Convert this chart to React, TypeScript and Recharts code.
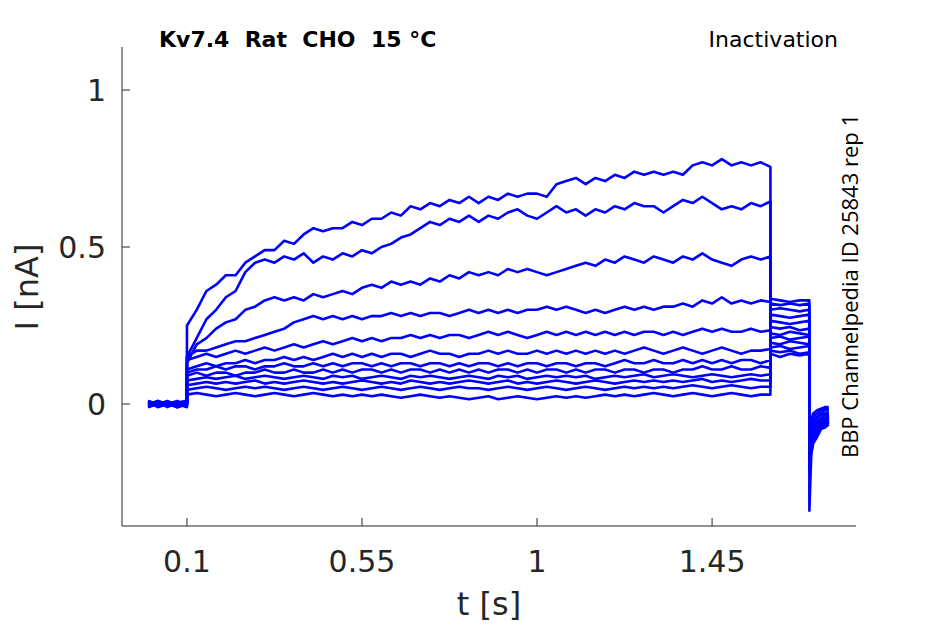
import { LineChart, Line, XAxis, YAxis } from "recharts";

// time grid (s): holding, test pulse, tail, return
const baseTimes = [0, 0.025, 0.05, 0.075, 0.0999];
const pulseTimes = [
  0.1, 0.125, 0.15, 0.175, 0.2, 0.225, 0.25, 0.275, 0.3, 0.325,
  0.35, 0.375, 0.4, 0.425, 0.45, 0.475, 0.5, 0.525, 0.55, 0.575,
  0.6, 0.625, 0.65, 0.675, 0.7, 0.725, 0.75, 0.775, 0.8, 0.825,
  0.85, 0.875, 0.9, 0.925, 0.95, 0.975, 1.0, 1.025, 1.05, 1.075,
  1.1, 1.125, 1.15, 1.175, 1.2, 1.225, 1.25, 1.275, 1.3, 1.325,
  1.35, 1.375, 1.4, 1.425, 1.45, 1.475, 1.5, 1.525, 1.55, 1.575,
  1.6,
];
const tailTimes = [1.6001, 1.625, 1.65, 1.675, 1.6999];
const afterTimes = [1.7001, 1.705, 1.71, 1.72, 1.73, 1.74, 1.75];

const times = [...baseTimes, ...pulseTimes, ...tailTimes, ...afterTimes];

// currents (nA), one array per sweep: base | pulse | tail | after
const sweep1 = [
  0.005, -0.005, 0.0, -0.01, 0.0,
  0.25, 0.30, 0.36, 0.38, 0.41, 0.41, 0.45, 0.47, 0.49, 0.49,
  0.52, 0.51, 0.54, 0.56, 0.55, 0.56, 0.56, 0.58, 0.57, 0.59,
  0.59, 0.61, 0.60, 0.63, 0.62, 0.64, 0.63, 0.65, 0.64, 0.66,
  0.64, 0.66, 0.65, 0.67, 0.66, 0.67, 0.67, 0.66, 0.70, 0.71,
  0.72, 0.70, 0.72, 0.71, 0.73, 0.72, 0.74, 0.73, 0.74, 0.73,
  0.74, 0.73, 0.76, 0.77, 0.76, 0.78, 0.76, 0.77, 0.76, 0.77,
  0.755,
  0.16, 0.15, 0.16, 0.155, 0.16,
  -0.1, -0.05, -0.03, -0.02, -0.015, -0.01, -0.01,
];
const sweep2 = [
  0.0, 0.01, -0.005, 0.005, 0.005,
  0.15, 0.21, 0.27, 0.30, 0.34, 0.36, 0.42, 0.45, 0.46, 0.45,
  0.47, 0.46, 0.48, 0.45, 0.47, 0.46, 0.48, 0.47, 0.49, 0.48,
  0.50, 0.51, 0.53, 0.54, 0.56, 0.58, 0.57, 0.59, 0.58, 0.60,
  0.58, 0.60, 0.59, 0.61, 0.62, 0.60, 0.59, 0.61, 0.63, 0.61,
  0.62, 0.60, 0.62, 0.61, 0.63, 0.62, 0.64, 0.63, 0.63, 0.61,
  0.63, 0.65, 0.64, 0.66, 0.64, 0.62, 0.63, 0.62, 0.64, 0.63,
  0.645,
  0.17, 0.165, 0.17, 0.16, 0.165,
  -0.12, -0.06, -0.04, -0.03, -0.02, -0.015, -0.015,
];
const sweep3 = [
  -0.005, 0.0, 0.01, -0.005, 0.0,
  0.13, 0.19, 0.21, 0.24, 0.26, 0.27, 0.30, 0.31, 0.33, 0.34,
  0.33, 0.34, 0.33, 0.35, 0.34, 0.35, 0.36, 0.35, 0.37, 0.38,
  0.37, 0.39, 0.38, 0.39, 0.38, 0.40, 0.39, 0.41, 0.40, 0.42,
  0.41, 0.42, 0.41, 0.43, 0.42, 0.43, 0.42, 0.41, 0.42, 0.43,
  0.44, 0.45, 0.44, 0.46, 0.45, 0.47, 0.46, 0.45, 0.47, 0.46,
  0.45, 0.47, 0.46, 0.48, 0.46, 0.45, 0.44, 0.46, 0.47, 0.46,
  0.47,
  0.18, 0.185, 0.175, 0.18, 0.185,
  -0.13, -0.07, -0.05, -0.04, -0.03, -0.02, -0.02,
];
const sweep4 = [
  0.01, -0.005, 0.005, 0.0, -0.005,
  0.15, 0.17, 0.17, 0.18, 0.19, 0.20, 0.20, 0.21, 0.22, 0.23,
  0.24, 0.26, 0.27, 0.28, 0.27, 0.28, 0.27, 0.28, 0.27, 0.28,
  0.28, 0.29, 0.28, 0.29, 0.28, 0.29, 0.29, 0.28, 0.29, 0.30,
  0.29, 0.30, 0.29, 0.30, 0.29, 0.30, 0.30, 0.31, 0.30, 0.31,
  0.30, 0.29, 0.30, 0.29, 0.30, 0.31, 0.30, 0.31, 0.30, 0.31,
  0.31, 0.32, 0.31, 0.33, 0.32, 0.34, 0.32, 0.33, 0.32, 0.33,
  0.325,
  0.195, 0.19, 0.2, 0.195, 0.19,
  -0.14, -0.08, -0.06, -0.045, -0.035, -0.03, -0.025,
];
const sweep5 = [
  0.0, 0.005, -0.01, 0.005, 0.01,
  0.14, 0.15, 0.16, 0.15, 0.16, 0.17, 0.16, 0.17, 0.18, 0.17,
  0.18, 0.19, 0.18, 0.19, 0.20, 0.19, 0.20, 0.21, 0.20, 0.21,
  0.20, 0.21, 0.21, 0.22, 0.21, 0.22, 0.21, 0.22, 0.22, 0.21,
  0.22, 0.23, 0.22, 0.23, 0.22, 0.21, 0.22, 0.23, 0.22, 0.23,
  0.22, 0.23, 0.22, 0.23, 0.22, 0.23, 0.22, 0.23, 0.23, 0.22,
  0.23, 0.22, 0.23, 0.24, 0.23, 0.24, 0.23, 0.23, 0.24, 0.23,
  0.235,
  0.21, 0.215, 0.205, 0.21, 0.215,
  -0.15, -0.09, -0.07, -0.055, -0.045, -0.035, -0.03,
];
const sweep6 = [
  -0.01, 0.0, 0.005, -0.01, 0.0,
  0.11, 0.12, 0.13, 0.12, 0.13, 0.13, 0.14, 0.13, 0.14, 0.14,
  0.15, 0.14, 0.15, 0.14, 0.15, 0.16, 0.15, 0.16, 0.15, 0.16,
  0.15, 0.16, 0.16, 0.15, 0.16, 0.17, 0.16, 0.16, 0.15, 0.16,
  0.16, 0.17, 0.16, 0.17, 0.16, 0.16, 0.17, 0.16, 0.17, 0.16,
  0.17, 0.16, 0.17, 0.16, 0.17, 0.16, 0.17, 0.18, 0.17, 0.16,
  0.17, 0.18, 0.17, 0.16, 0.17, 0.18, 0.17, 0.16, 0.17, 0.17,
  0.175,
  0.225, 0.22, 0.23, 0.225, 0.22,
  -0.16, -0.1, -0.08, -0.06, -0.05, -0.045, -0.035,
];
const sweep7 = [
  0.005, -0.01, 0.0, 0.01, -0.005,
  0.10, 0.11, 0.11, 0.12, 0.11, 0.12, 0.12, 0.11, 0.12, 0.12,
  0.13, 0.12, 0.12, 0.13, 0.12, 0.13, 0.12, 0.13, 0.13, 0.12,
  0.13, 0.12, 0.13, 0.13, 0.12, 0.13, 0.13, 0.12, 0.13, 0.12,
  0.13, 0.13, 0.12, 0.13, 0.12, 0.13, 0.13, 0.12, 0.13, 0.13,
  0.12, 0.13, 0.13, 0.12, 0.13, 0.14, 0.13, 0.13, 0.14, 0.13,
  0.13, 0.14, 0.13, 0.14, 0.13, 0.14, 0.13, 0.14, 0.14, 0.13,
  0.14,
  0.245, 0.24, 0.245, 0.235, 0.24,
  -0.17, -0.11, -0.09, -0.07, -0.055, -0.05, -0.04,
];
const sweep8 = [
  0.0, 0.005, -0.005, -0.005, 0.005,
  0.09, 0.10, 0.09, 0.10, 0.10, 0.09, 0.10, 0.10, 0.11, 0.10,
  0.10, 0.11, 0.10, 0.10, 0.11, 0.10, 0.11, 0.10, 0.11, 0.11,
  0.10, 0.11, 0.10, 0.11, 0.11, 0.10, 0.11, 0.10, 0.11, 0.10,
  0.11, 0.10, 0.11, 0.11, 0.10, 0.11, 0.10, 0.11, 0.11, 0.10,
  0.11, 0.10, 0.11, 0.11, 0.10, 0.11, 0.11, 0.10, 0.11, 0.11,
  0.10, 0.11, 0.11, 0.12, 0.11, 0.11, 0.12, 0.11, 0.11, 0.12,
  0.115,
  0.265, 0.26, 0.255, 0.26, 0.265,
  -0.18, -0.12, -0.1, -0.075, -0.06, -0.055, -0.045,
];
const sweep9 = [
  -0.005, 0.01, 0.0, 0.0, -0.01,
  0.075, 0.08, 0.085, 0.08, 0.085, 0.09, 0.08, 0.085, 0.09, 0.085,
  0.08, 0.085, 0.09, 0.085, 0.08, 0.09, 0.085, 0.09, 0.08, 0.085,
  0.09, 0.085, 0.08, 0.09, 0.085, 0.09, 0.085, 0.08, 0.085, 0.09,
  0.085, 0.08, 0.09, 0.085, 0.09, 0.08, 0.085, 0.09, 0.085, 0.09,
  0.085, 0.09, 0.08, 0.085, 0.09, 0.085, 0.09, 0.095, 0.085, 0.09,
  0.095, 0.09, 0.085, 0.09, 0.095, 0.09, 0.085, 0.09, 0.095, 0.09,
  0.095,
  0.285, 0.28, 0.275, 0.28, 0.285,
  -0.19, -0.13, -0.11, -0.085, -0.065, -0.06, -0.05,
];
const sweep10 = [
  0.01, 0.0, -0.005, 0.005, 0.0,
  0.06, 0.065, 0.07, 0.065, 0.07, 0.065, 0.07, 0.075, 0.065, 0.07,
  0.065, 0.07, 0.075, 0.07, 0.065, 0.07, 0.065, 0.07, 0.075, 0.07,
  0.065, 0.07, 0.065, 0.075, 0.07, 0.065, 0.07, 0.065, 0.07, 0.075,
  0.07, 0.065, 0.07, 0.075, 0.065, 0.07, 0.065, 0.07, 0.075, 0.07,
  0.065, 0.07, 0.075, 0.07, 0.065, 0.07, 0.075, 0.07, 0.075, 0.07,
  0.075, 0.07, 0.075, 0.08, 0.07, 0.075, 0.07, 0.075, 0.08, 0.075,
  0.075,
  0.3, 0.305, 0.3, 0.295, 0.3,
  -0.2, -0.14, -0.115, -0.09, -0.07, -0.065, -0.055,
];
const sweep11 = [
  0.0, -0.005, 0.005, -0.01, 0.005,
  0.045, 0.05, 0.055, 0.05, 0.045, 0.05, 0.055, 0.05, 0.055, 0.05,
  0.045, 0.05, 0.055, 0.05, 0.045, 0.05, 0.055, 0.05, 0.045, 0.05,
  0.055, 0.05, 0.045, 0.05, 0.055, 0.05, 0.045, 0.05, 0.055, 0.05,
  0.05, 0.045, 0.05, 0.055, 0.05, 0.045, 0.05, 0.055, 0.05, 0.045,
  0.05, 0.055, 0.05, 0.045, 0.05, 0.055, 0.05, 0.055, 0.05, 0.055,
  0.05, 0.055, 0.06, 0.055, 0.05, 0.055, 0.06, 0.055, 0.05, 0.055,
  0.055,
  0.32, 0.315, 0.32, 0.315, 0.32,
  -0.22, -0.15, -0.12, -0.1, -0.075, -0.07, -0.06,
];
const sweep12 = [
  -0.01, 0.005, 0.0, 0.005, -0.005,
  0.03, 0.035, 0.03, 0.025, 0.03, 0.035, 0.03, 0.025, 0.03, 0.035,
  0.03, 0.025, 0.03, 0.035, 0.03, 0.025, 0.03, 0.025, 0.03, 0.025,
  0.03, 0.025, 0.02, 0.025, 0.03, 0.025, 0.02, 0.025, 0.02, 0.015,
  0.02, 0.025, 0.015, 0.02, 0.025, 0.02, 0.015, 0.02, 0.025, 0.02,
  0.025, 0.02, 0.025, 0.03, 0.025, 0.03, 0.025, 0.03, 0.035, 0.03,
  0.025, 0.03, 0.035, 0.03, 0.025, 0.03, 0.035, 0.03, 0.025, 0.03,
  0.03,
  0.335, 0.33, 0.325, 0.33, 0.33,
  -0.34, -0.16, -0.125, -0.105, -0.08, -0.075, -0.065,
];

const sweeps = [
  sweep1, sweep2, sweep3, sweep4, sweep5, sweep6,
  sweep7, sweep8, sweep9, sweep10, sweep11, sweep12,
];

const xTicks = [0.1, 0.55, 1, 1.45];
const yTicks = [0, 0.5, 1];

const rows = times.map((t, k) => {
  const row: Record<string, number> = { t };
  sweeps.forEach((s, j) => {
    row[`s${j}`] = s[k];
  });
  return row;
});

const axisColor = "#262626";
const font = "DejaVu Sans";

// ticks point inward, MATLAB style
function XTick({ x, y, payload }: any) {
  return (
    <g>
      <line x1={x} x2={x} y1={y} y2={y - 8} stroke={axisColor} strokeWidth={1} />
      <text x={x} y={y + 46} textAnchor="middle" fontFamily={font} fontSize={30} fill={axisColor}>
        {payload.value}
      </text>
    </g>
  );
}

function YTick({ x, y, payload }: any) {
  return (
    <g>
      <line x1={x} x2={x + 8} y1={y} y2={y} stroke={axisColor} strokeWidth={1} />
      <text x={x - 16} y={y + 11} textAnchor="end" fontFamily={font} fontSize={30} fill={axisColor}>
        {payload.value}
      </text>
    </g>
  );
}

export default function App() {
  return (
    <div style={{ position: "absolute", left: 0, top: 0, width: 945, height: 624, background: "#fff" }}>
      <LineChart width={945} height={624} data={rows} margin={{ top: 47, right: 89, bottom: 0, left: 0 }}>
        <XAxis
          dataKey="t"
          type="number"
          domain={[-0.067, 1.82]}
          allowDataOverflow
          ticks={xTicks}
          height={98}
          stroke={axisColor}
          tickLine={false}
          tickSize={0}
          tickMargin={0}
          tick={<XTick />}
        />
        <YAxis
          type="number"
          domain={[-0.3885, 1.137]}
          allowDataOverflow
          ticks={yTicks}
          width={122}
          stroke={axisColor}
          tickLine={false}
          tickSize={0}
          tickMargin={0}
          tick={<YTick />}
        />
        {sweeps.map((_, j) => (
          <Line
            key={j}
            dataKey={`s${j}`}
            type="linear"
            stroke="#0000ff"
            strokeWidth={2.6}
            strokeLinejoin="round"
            dot={false}
            isAnimationActive={false}
          />
        ))}
      </LineChart>
      <svg
        width={945}
        height={624}
        style={{ position: "absolute", left: 0, top: 0, pointerEvents: "none" }}
      >
        <text x={159} y={47} fontFamily={font} fontWeight="bold" fontSize={22} fill="#000" style={{ whiteSpace: "pre" }}>
          {"Kv7.4  Rat  CHO  15 °C"}
        </text>
        <text x={838} y={47} textAnchor="end" fontFamily={font} fontSize={22} fill="#000">
          Inactivation
        </text>
        <text x={489} y={615} textAnchor="middle" fontFamily={font} fontSize={32} fill={axisColor}>
          t [s]
        </text>
        <text
          transform="translate(38,287) rotate(-90)"
          textAnchor="middle"
          fontFamily={font}
          fontSize={32}
          fill={axisColor}
        >
          I [nA]
        </text>
        <text
          transform="translate(858,286) rotate(-90)"
          textAnchor="middle"
          fontFamily="Open Sans"
          fontSize={22}
          fill="#000"
        >
          BBP Channelpedia ID 25843 rep 1
        </text>
      </svg>
    </div>
  );
}
